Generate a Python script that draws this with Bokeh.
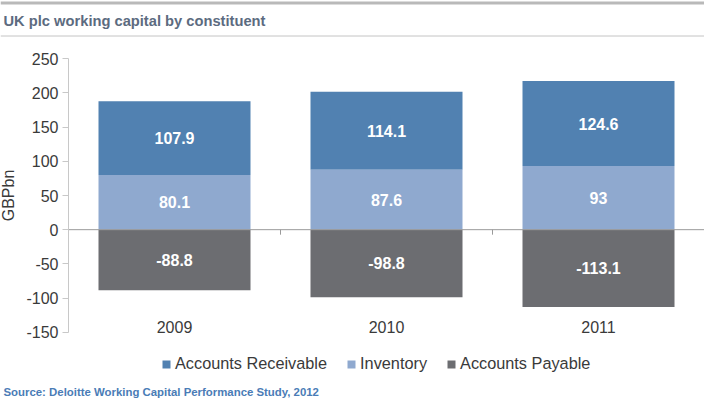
from bokeh.plotting import figure
from bokeh.models import (Range1d, Span, Label, FixedTicker, Legend, LegendItem,
                          ColumnDataSource)
from bokeh.core.properties import value
from bokeh.embed import file_html
from bokeh.resources import INLINE

# ---- data ----
years = ["2009", "2010", "2011"]
receivable = [107.9, 114.1, 124.6]
inventory = [80.1, 87.6, 93.0]
payable = [-88.8, -98.8, -113.1]
y_ticks = [-150, -100, -50, 0, 50, 100, 150, 200, 250]
title_text = "UK plc working capital by constituent"
source_text = "Source: Deloitte Working Capital Performance Study, 2012"
series_names = ["Accounts Receivable", "Inventory", "Accounts Payable"]

C_REC = "#5181b1"
C_INV = "#8fa9cf"
C_PAY = "#6c6d71"
C_TXT = "#3a3a3a"
FONT = "Liberation Sans"

# ---- layout geometry (pixels within the figure) ----
W, H = 704, 399
PLOT_LEFT = 68          # where the category area starts
PLOT_TOP = 58.3         # pixel row of the top tick
PLOT_BOT = 331.7        # pixel row of the bottom tick
n = len(years)
ymin_t, ymax_t = y_ticks[0], y_ticks[-1]
ppu_y = (PLOT_BOT - PLOT_TOP) / (ymax_t - ymin_t)
ppu_x = (W - PLOT_LEFT) / n


def py(px):
    """figure pixel row -> data y"""
    return ymax_t - (px - PLOT_TOP) / ppu_y


x_start = -PLOT_LEFT / ppu_x

p = figure(width=W, height=H, x_range=Range1d(x_start, n), y_range=Range1d(py(H), py(0)),
           output_backend="svg", toolbar_location=None, min_border=0)
p.grid.visible = False
p.outline_line_color = None

xc = [i + 0.5 for i in range(n)]
src = ColumnDataSource(dict(
    x=xc, inv=inventory, pay=payable,
    rec_top=[a + b for a, b in zip(inventory, receivable)],
    rec_mid=[a + b / 2 for a, b in zip(inventory, receivable)],
    inv_mid=[a / 2 for a in inventory],
    pay_mid=[a / 2 for a in payable],
    rec_lbl=[f"{v:g}" for v in receivable],
    inv_lbl=[f"{v:g}" for v in inventory],
    pay_lbl=[f"{v:g}" for v in payable],
))

bw = 0.717
r_rec = p.vbar(x="x", bottom="inv", top="rec_top", width=bw, source=src,
               fill_color=C_REC, line_color=None)
r_inv = p.vbar(x="x", bottom=0, top="inv", width=bw, source=src,
               fill_color=C_INV, line_color=None)
r_pay = p.vbar(x="x", bottom="pay", top=0, width=bw, source=src,
               fill_color=C_PAY, line_color=None)

# zero line and category-boundary ticks
p.segment(x0=[0], x1=[n], y0=[0], y1=[0], line_color="#9a9a9a", line_width=1)
bounds = [float(i) for i in range(1, n)]
p.segment(x0=bounds, x1=bounds, y0=[0] * len(bounds), y1=[-5 / ppu_y] * len(bounds),
          line_color="#9a9a9a", line_width=1)

for col, lbl in (("rec_mid", "rec_lbl"), ("inv_mid", "inv_lbl"), ("pay_mid", "pay_lbl")):
    p.text(x="x", y=col, text=lbl, source=src, text_align="center", text_baseline="middle",
           text_font=value(FONT), text_font_style="bold", text_font_size="16px",
           text_color="white")

# y axis, drawn at the left edge of the category area
ya = p.yaxis[0]
ya.fixed_location = 0
ya.ticker = FixedTicker(ticks=y_ticks)
ya.major_label_overrides = {t: str(t) for t in y_ticks}
ya.bounds = (ymin_t, ymax_t)
ya.axis_line_color = "#c8c8c8"
ya.major_tick_line_color = "#c8c8c8"
ya.major_tick_out = 6
ya.major_tick_in = 0
ya.minor_tick_line_color = None
ya.major_label_text_font = FONT
ya.major_label_text_font_size = "16px"
ya.major_label_text_color = C_TXT
ya.major_label_standoff = 4
ya.axis_label = "GBPbn"
ya.axis_label_text_font = FONT
ya.axis_label_text_font_size = "16px"
ya.axis_label_text_font_style = "normal"
ya.axis_label_text_color = C_TXT
ya.axis_label_standoff = 6

# x axis labels
xa = p.xaxis[0]
xa.fixed_location = py(320.5)
xa.ticker = FixedTicker(ticks=xc)
xa.major_label_overrides = {c: y for c, y in zip(xc, years)}
xa.axis_line_color = None
xa.major_tick_line_color = None
xa.major_tick_out = 0
xa.minor_tick_line_color = None
xa.major_label_standoff = 0
xa.major_label_text_font = FONT
xa.major_label_text_font_size = "16px"
xa.major_label_text_color = C_TXT

# header lines and title
p.add_layout(Span(location=py(2.5), dimension="width", line_width=3, line_color="#b9b9b9"))
p.add_layout(Span(location=py(35.5), dimension="width", line_width=1, line_color="#c4c4c4"))
p.add_layout(Label(x=x_start + 3 / ppu_x, y=py(20.5), text=title_text, text_baseline="middle",
                   text_font=FONT, text_font_style="bold",
                   text_font_size="14.7px", text_color="#5c6b80"))

# legend
legend = Legend(items=[LegendItem(label=series_names[0], renderers=[r_rec]),
                       LegendItem(label=series_names[1], renderers=[r_inv]),
                       LegendItem(label=series_names[2], renderers=[r_pay])],
                orientation="horizontal", location=(161, 26),
                glyph_width=10, glyph_height=10, label_standoff=4, spacing=19,
                label_text_font=FONT, label_text_font_size="16.3px",
                label_text_color=C_TXT, border_line_color=None,
                background_fill_alpha=0, padding=0, margin=0)
p.add_layout(legend)

# source
p.add_layout(Label(x=x_start + 3 / ppu_x, y=py(391), text=source_text, text_baseline="middle",
                   text_font=FONT, text_font_style="bold",
                   text_font_size="11.4px", text_color="#4a7cb6"))

open("out.html", "w").write(file_html(p, INLINE))
